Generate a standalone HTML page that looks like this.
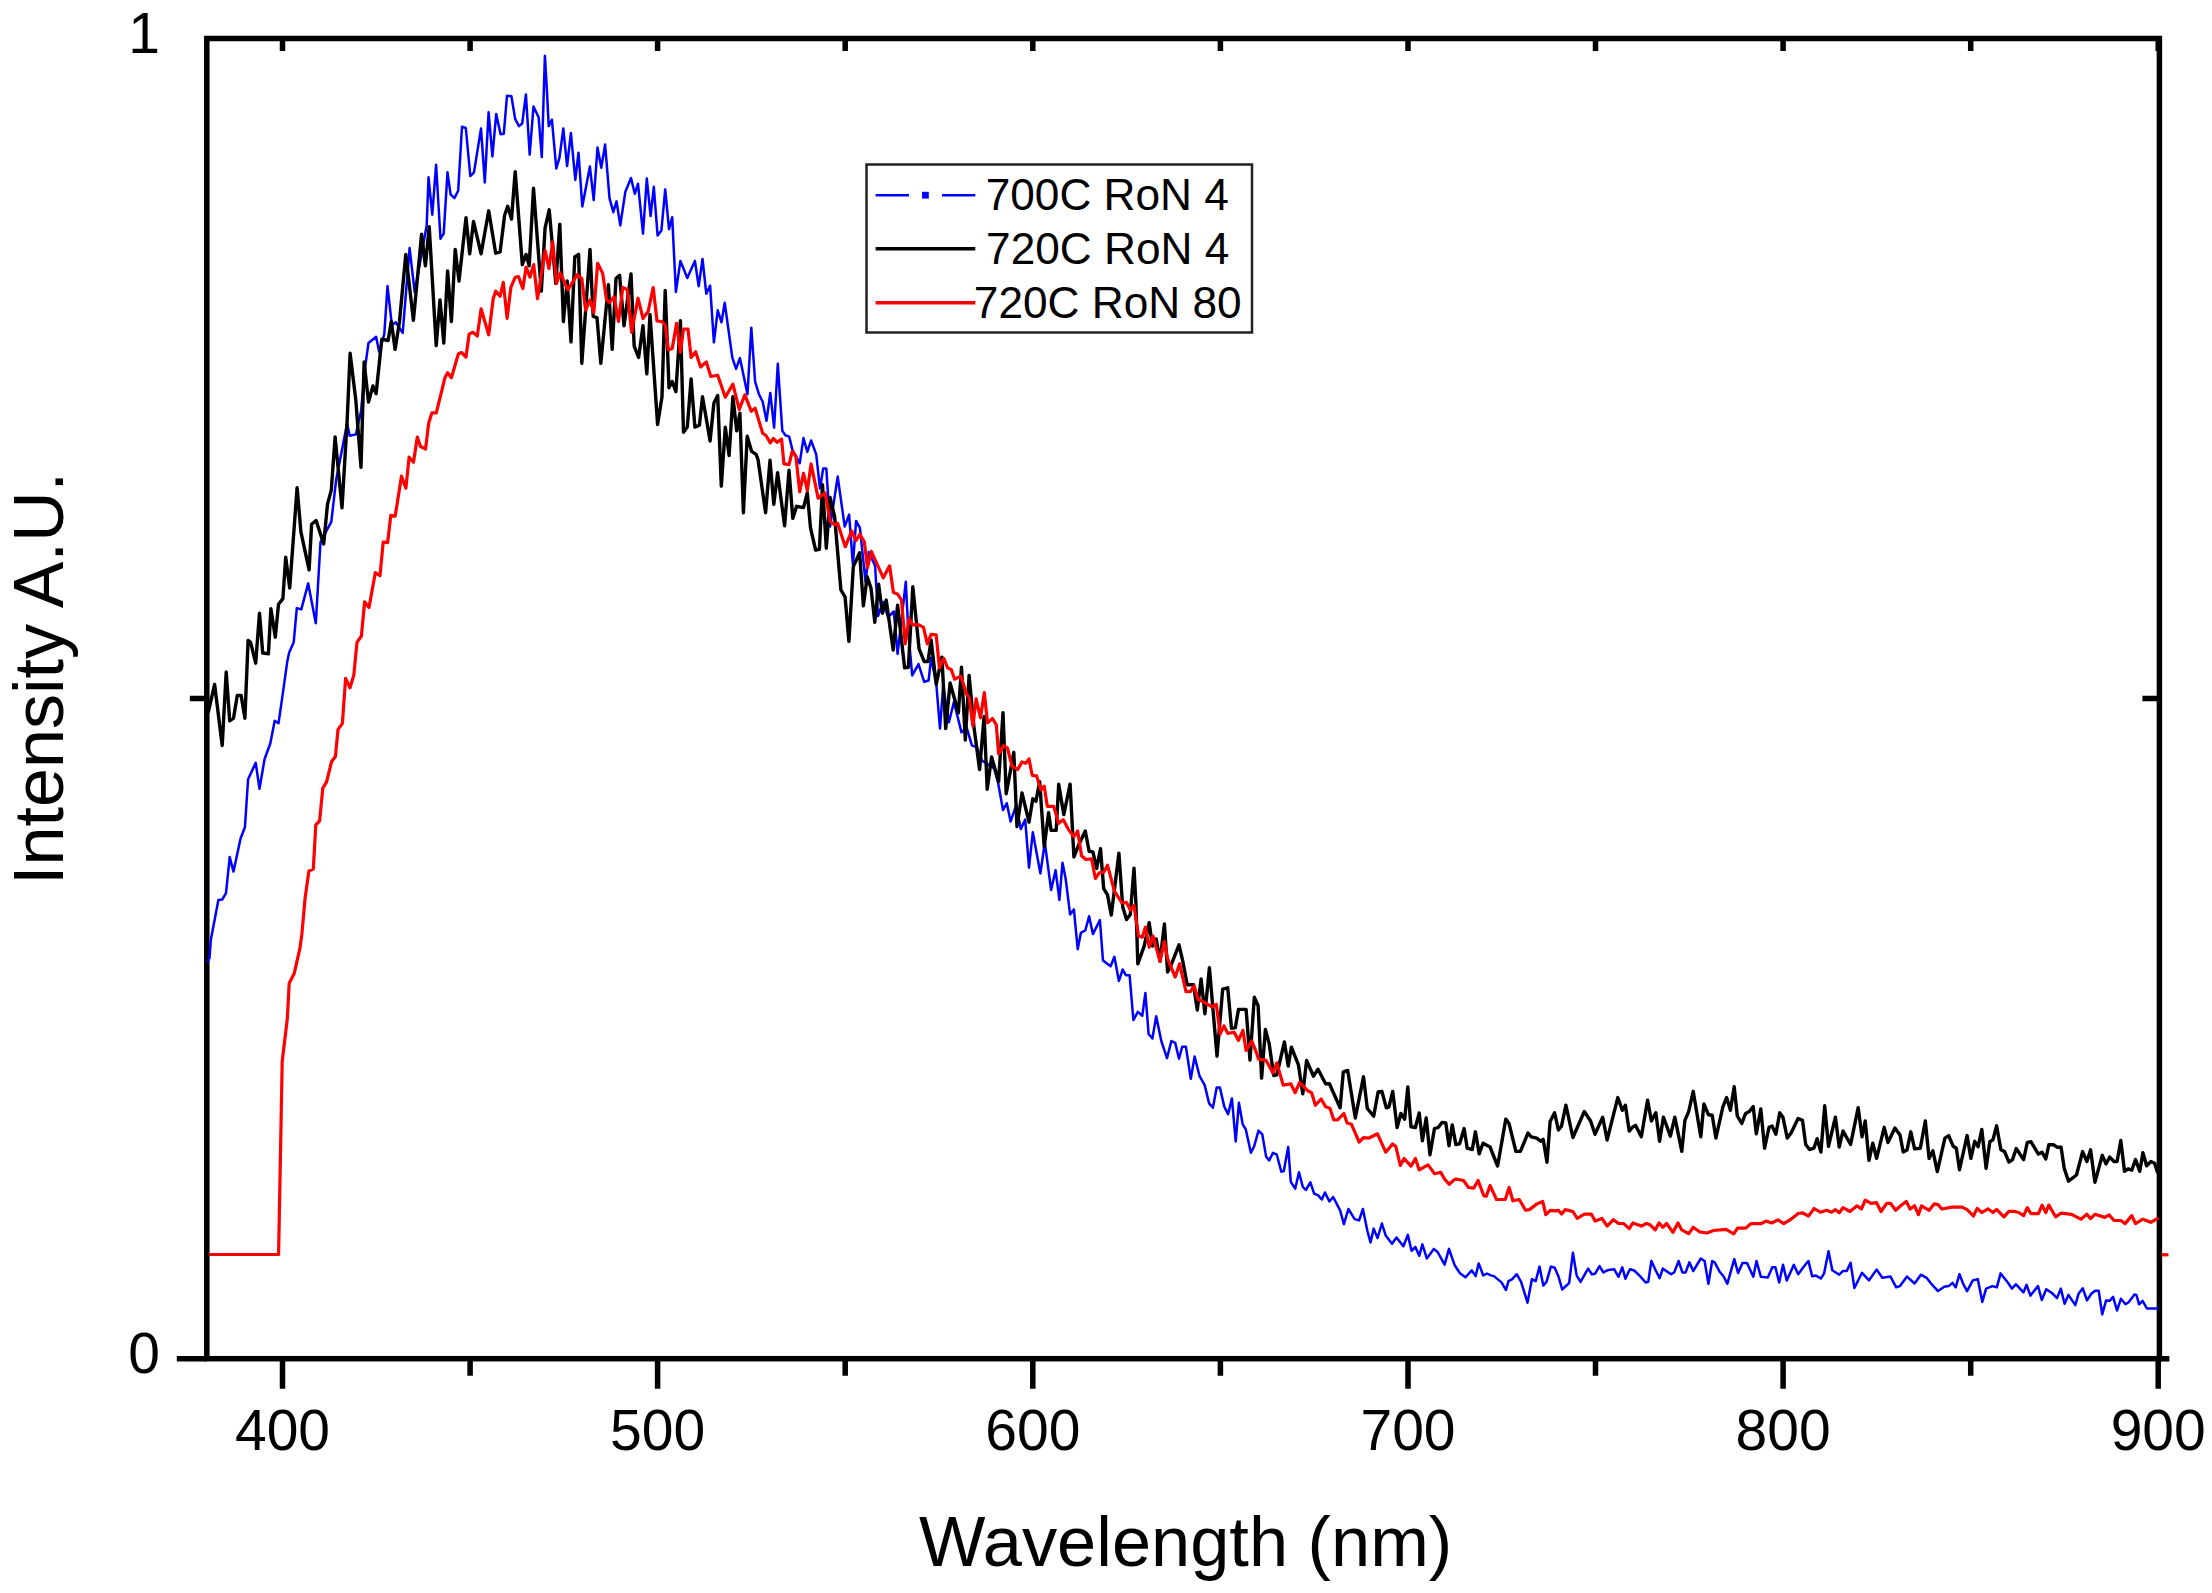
<!DOCTYPE html>
<html><head><meta charset="utf-8"><title>Intensity vs Wavelength</title>
<style>html,body{margin:0;padding:0;background:#fff;width:2212px;height:1593px;overflow:hidden}svg{display:block}text{font-family:"Liberation Sans",sans-serif;fill:#000}</style>
</head><body>
<svg width="2212" height="1593" viewBox="0 0 2212 1593"><rect x="206.8" y="38.5" width="1952.6" height="1320.2" fill="none" stroke="#000" stroke-width="5.5"/>
<path d="M282.5 1358.7V1388.7M282.5 38.5V51.0M470.1 1358.7V1375.7M470.1 38.5V51.0M657.6 1358.7V1388.7M657.6 38.5V51.0M845.2 1358.7V1375.7M845.2 38.5V51.0M1032.8 1358.7V1388.7M1032.8 38.5V51.0M1220.4 1358.7V1375.7M1220.4 38.5V51.0M1408.0 1358.7V1388.7M1408.0 38.5V51.0M1595.5 1358.7V1375.7M1595.5 38.5V51.0M1783.1 1358.7V1388.7M1783.1 38.5V51.0M1970.7 1358.7V1375.7M1970.7 38.5V51.0M2158.2 1358.7V1388.7M2158.2 38.5V51.0M206.8 1358.7H176.8M206.8 698.6H189.8M2159.4 698.6H2142.4M2159.4 1358.7H2169.4" stroke="#000" stroke-width="5.5" fill="none"/>
<path d="M207.5,962.0 209.5,958.0 210.8,940.0 218.4,900.1 222.2,899.5 226.0,893.2 229.7,857.1 233.5,871.6 240.5,838.7 244.9,827.3 248.1,779.2 255.7,762.8 259.5,788.7 264.6,759.0 270.3,743.5 274.7,720.8 278.5,723.3 282.9,692.9 287.3,661.3 289.2,652.4 293.7,642.3 296.8,608.1 301.3,609.4 308.2,583.4 315.8,623.3 320.5,542.0 331.3,521.8 336.3,478.7 343.3,443.3 347.1,423.0 349.6,435.7 355.9,434.4 361.0,411.6 365.3,365.8 368.5,343.0 376.1,336.7 379.2,351.9 384.3,334.2 387.5,286.1 391.9,325.3 395.7,322.2 402.7,332.9 409.6,248.1 414.7,292.4 426.7,225.3 428.5,177.3 432.3,214.7 436.1,164.7 440.5,238.7 443.7,233.7 447.5,172.3 450.6,194.4 454.4,198.2 458.2,190.6 462.0,126.7 465.8,128.0 470.3,176.1 474.0,172.3 481.0,128.6 484.8,182.4 488.6,112.2 492.4,156.5 496.2,114.1 500.6,134.3 503.8,133.7 507.0,95.7 511.4,96.3 515.2,119.1 519.0,126.1 522.2,123.5 525.9,94.4 529.7,154.6 533.5,106.5 538.6,117.2 541.8,157.1 544.9,55.8 546.8,88.1 548.7,126.1 551.9,119.7 556.3,168.5 559.5,157.7 563.3,128.6 567.1,166.0 570.9,133.0 575.3,179.9 578.5,152.7 582.3,206.5 589.9,166.6 593.7,200.1 597.5,147.6 601.3,167.8 605.1,144.4 609.5,198.2 613.3,212.2 616.5,201.4 620.3,225.4 625.3,191.9 631.0,178.0 634.8,193.8 638.0,183.7 643.0,233.7 646.8,178.6 650.6,216.0 653.8,186.8 657.6,235.6 661.4,230.5 665.2,189.4 669.0,229.2 672.2,217.2 675.9,291.9 680.4,260.9 687.3,278.0 694.9,260.9 698.7,286.2 702.5,259.0 706.3,293.8 710.1,285.6 713.9,342.3 717.7,310.3 721.5,322.3 724.7,302.7 732.3,357.5 736.1,368.9 739.9,358.1 747.5,394.2 751.3,327.7 755.1,381.5 758.9,394.2 762.7,401.8 766.5,420.8 770.3,392.9 774.1,427.7 777.8,363.8 782.3,430.9 785.4,435.3 789.2,436.6 792.4,449.9 799.7,463.3 803.5,438.0 807.3,451.9 811.1,440.5 816.2,454.4 820.0,488.6 823.2,468.4 826.3,468.4 830.1,526.6 837.7,476.6 844.7,526.6 849.1,514.6 852.9,564.6 856.1,520.9 859.9,527.8 865.6,582.3 868.7,551.9 875.1,565.8 878.0,616.0 883.0,602.0 888.1,617.2 893.8,611.5 897.6,653.9 905.8,581.8 908.4,633.7 912.2,675.4 918.5,664.1 924.2,681.8 928.6,680.5 931.1,657.7 936.2,683.0 940.0,728.6 943.2,685.6 948.9,722.3 953.9,702.0 961.5,732.4 966.6,727.3 972.0,745.6 976.5,746.8 982.2,760.8 994.2,768.4 998.0,782.3 1003.0,810.1 1006.8,803.2 1010.6,821.5 1016.3,805.1 1020.8,829.1 1025.2,819.6 1029.0,867.7 1032.8,832.3 1040.4,873.4 1044.8,842.4 1051.1,889.9 1055.6,870.3 1059.4,900.0 1062.5,862.7 1065.7,879.0 1070.1,914.4 1073.9,909.4 1077.7,949.2 1080.9,932.8 1085.3,930.3 1089.1,916.3 1092.9,934.1 1099.9,920.1 1103.0,960.6 1110.6,966.3 1114.4,956.8 1118.9,980.9 1122.7,969.5 1125.8,975.2 1129.6,975.2 1133.4,1020.1 1137.8,1011.9 1142.3,1015.7 1145.4,992.9 1148.6,1034.0 1152.4,1038.5 1156.2,1016.3 1161.3,1041.0 1167.0,1058.1 1171.4,1041.0 1175.2,1042.9 1179.0,1058.7 1182.2,1046.7 1185.9,1046.7 1190.8,1078.7 1194.6,1056.6 1199.6,1076.2 1204.7,1085.1 1209.1,1103.4 1212.9,1107.8 1216.7,1087.6 1219.9,1087.6 1224.3,1106.6 1228.1,1114.2 1231.9,1098.4 1235.7,1141.4 1238.9,1102.8 1242.7,1124.3 1245.8,1129.4 1250.9,1152.8 1254.1,1146.5 1258.5,1130.6 1262.3,1134.4 1266.1,1156.6 1269.2,1160.4 1273.0,1152.8 1276.8,1154.7 1281.3,1171.8 1283.8,1171.1 1288.2,1147.1 1290.8,1181.8 1295.2,1188.7 1299.0,1172.3 1302.8,1186.8 1305.9,1190.0 1310.4,1182.4 1314.2,1193.8 1318.0,1195.1 1321.8,1199.5 1324.9,1192.5 1329.4,1201.4 1333.2,1197.0 1340.1,1210.3 1343.9,1224.2 1348.4,1209.0 1354.7,1219.1 1359.1,1220.4 1362.9,1209.0 1367.3,1230.5 1370.5,1242.5 1373.7,1228.6 1377.5,1238.1 1381.9,1223.5 1385.7,1235.6 1392.0,1243.8 1396.5,1237.5 1403.4,1246.3 1407.8,1234.9 1411.6,1250.8 1415.4,1247.0 1419.2,1255.8 1422.4,1244.4 1426.8,1258.4 1433.8,1248.9 1437.6,1252.0 1444.6,1264.7 1449.0,1248.9 1454.7,1265.3 1459.7,1272.9 1465.4,1277.3 1471.8,1270.4 1475.6,1276.1 1478.7,1263.4 1483.2,1275.4 1487.0,1273.5 1490.8,1275.4 1493.9,1276.1 1501.5,1282.4 1506.0,1290.0 1508.5,1281.1 1512.3,1279.2 1516.7,1274.2 1521.1,1281.8 1527.5,1302.7 1531.9,1279.2 1535.7,1281.1 1539.5,1266.6 1543.3,1285.6 1546.5,1281.8 1550.9,1266.6 1554.7,1267.8 1558.4,1276.2 1562.2,1289.5 1569.1,1283.2 1572.9,1252.8 1576.7,1275.6 1580.5,1281.9 1588.1,1268.6 1591.9,1274.3 1595.1,1273.7 1599.5,1266.1 1603.3,1272.4 1608.4,1269.9 1614.1,1269.2 1618.5,1276.8 1622.3,1267.3 1625.4,1278.7 1629.9,1269.2 1634.3,1270.5 1640.0,1276.2 1645.7,1282.5 1648.2,1281.9 1651.4,1261.0 1655.8,1270.5 1659.6,1278.1 1662.8,1268.6 1671.0,1274.3 1674.2,1272.4 1678.6,1261.0 1682.4,1272.4 1685.6,1272.4 1689.4,1262.3 1693.2,1271.1 1700.8,1258.5 1704.6,1261.0 1708.4,1283.8 1712.2,1261.0 1714.7,1262.3 1719.7,1271.8 1723.5,1276.2 1727.3,1283.8 1734.3,1259.1 1738.1,1273.0 1742.5,1262.9 1747.0,1262.9 1753.3,1276.8 1756.5,1261.0 1760.9,1276.8 1767.8,1277.5 1772.3,1267.3 1775.4,1267.3 1779.2,1282.5 1783.0,1264.8 1786.8,1280.6 1793.8,1264.8 1798.2,1274.3 1803.3,1267.3 1808.4,1261.0 1812.2,1276.2 1815.9,1275.6 1820.9,1278.5 1824.1,1273.4 1828.5,1251.3 1832.3,1270.3 1839.2,1274.7 1843.0,1270.9 1846.8,1270.9 1850.6,1262.7 1854.4,1288.0 1862.0,1272.8 1869.0,1280.4 1876.6,1269.6 1882.3,1277.8 1890.5,1276.6 1896.2,1287.3 1900.0,1286.1 1907.0,1276.6 1914.6,1283.5 1920.9,1274.7 1926.6,1277.8 1931.6,1284.2 1938.0,1291.1 1944.3,1286.7 1948.7,1286.1 1952.5,1282.9 1955.7,1287.3 1959.5,1274.1 1963.3,1284.2 1967.1,1291.1 1972.8,1280.4 1977.8,1279.1 1982.3,1301.9 1986.1,1288.6 1992.4,1286.1 1996.8,1287.3 2000.6,1273.4 2007.6,1282.3 2012.0,1288.6 2015.8,1284.2 2023.4,1292.4 2026.6,1284.8 2030.4,1295.6 2038.0,1286.1 2041.8,1300.0 2046.2,1289.2 2051.9,1293.0 2057.0,1298.1 2060.8,1288.6 2064.6,1303.8 2068.4,1294.9 2075.3,1305.1 2078.5,1293.8 2082.8,1288.3 2087.0,1300.4 2091.3,1293.8 2095.2,1290.7 2098.7,1290.7 2102.2,1314.4 2106.1,1300.4 2109.6,1300.8 2113.1,1296.9 2117.0,1310.5 2120.9,1298.8 2125.5,1304.3 2128.6,1302.3 2134.5,1294.5 2136.4,1294.9 2139.1,1304.3 2142.6,1300.8 2146.9,1308.5 2158.5,1308.5" stroke="#0000ff" stroke-width="2.5" fill="none" stroke-linejoin="round" stroke-linecap="butt"/>
<path d="M207.5,710.0 208.3,712.2 214.6,684.5 222.2,745.5 226.2,672.0 229.7,720.8 233.5,718.2 237.3,695.4 241.1,695.4 244.9,718.2 248.1,640.4 250.6,642.3 255.7,663.2 259.5,613.2 262.7,653.0 268.4,653.7 270.9,608.7 275.3,637.2 278.5,604.3 282.9,598.6 285.7,557.2 289.7,588.0 297.1,487.6 300.9,531.9 309.1,569.9 311.6,524.3 316.1,520.5 323.7,543.9 327.5,504.1 331.3,490.1 335.1,437.0 342.0,507.8 347.1,421.8 350.1,353.2 355.8,400.0 361.0,467.3 364.1,362.0 368.5,402.0 372.9,386.0 376.1,393.7 381.8,339.2 388.1,340.5 391.3,321.5 395.1,349.4 399.5,321.5 405.8,254.4 413.4,320.3 421.6,234.2 425.4,265.8 429.2,226.6 436.2,345.6 440.0,300.0 443.8,343.0 447.6,270.9 451.4,321.5 455.2,249.4 459.0,281.0 466.0,217.7 469.7,253.8 473.5,221.5 481.1,253.8 488.7,210.8 495.7,253.2 500.1,251.9 504.6,215.2 507.7,206.3 511.5,219.0 515.2,171.6 522.3,264.6 526.1,254.4 529.2,265.8 533.5,188.1 541.3,291.1 545.1,227.8 549.2,209.8 555.8,283.5 559.8,224.1 563.4,321.5 567.2,281.0 571.0,341.8 574.8,257.0 578.6,254.4 581.8,363.3 590.0,249.4 593.2,316.5 597.0,317.7 600.8,363.3 608.4,284.8 612.2,349.4 616.0,278.5 619.6,275.2 624.0,325.8 631.0,273.9 634.2,346.1 638.6,357.5 643.0,325.8 646.8,373.9 650.0,314.4 657.6,424.6 662.0,396.7 665.2,290.4 669.0,387.8 672.2,381.5 675.9,391.6 680.4,320.8 683.5,432.2 687.3,427.1 691.1,379.0 694.9,427.1 699.4,425.2 702.5,396.7 710.1,441.0 713.9,403.0 717.7,395.4 721.3,486.1 725.3,427.1 729.1,455.6 732.9,396.7 736.7,430.9 739.9,413.2 743.4,512.7 747.2,436.1 751.6,451.3 756.1,454.4 758.0,459.5 765.6,512.7 770.0,460.1 773.8,504.4 777.6,472.8 784.6,525.9 789.0,470.3 792.8,518.4 796.6,506.3 803.5,507.6 807.3,493.0 810.5,527.8 815.6,550.0 819.4,549.4 822.5,484.8 826.3,548.1 830.1,497.5 834.6,516.5 840.9,589.9 845.1,597.0 848.9,641.3 853.3,566.6 859.6,552.7 863.4,605.8 867.2,576.7 871.0,588.1 874.8,622.3 878.6,584.3 882.4,613.4 886.2,600.1 893.2,650.1 897.6,605.2 904.6,667.8 908.4,667.2 912.8,586.8 919.1,648.9 924.2,661.5 928.0,661.5 931.1,640.0 936.2,684.3 941.9,657.1 945.7,728.6 950.1,683.0 958.4,712.8 961.5,667.2 965.3,740.0 969.1,675.4 973.9,726.6 979.6,769.6 984.1,716.5 987.2,789.2 991.6,757.0 998.6,781.6 1003.0,712.7 1006.2,793.7 1013.8,752.5 1017.0,826.6 1022.0,793.0 1029.0,822.2 1032.8,798.7 1035.9,801.3 1039.7,781.6 1044.2,846.8 1048.6,812.7 1051.1,830.4 1056.2,830.4 1058.7,784.2 1063.8,814.6 1070.1,784.2 1073.9,857.0 1078.4,845.6 1085.3,831.0 1089.1,851.3 1092.9,851.9 1096.7,868.4 1100.5,848.7 1103.7,888.6 1107.5,894.9 1111.3,915.1 1118.9,853.2 1122.7,906.8 1126.5,919.5 1130.3,914.4 1134.0,868.2 1135.9,903.0 1137.8,963.8 1144.2,946.1 1149.2,922.7 1152.4,946.1 1156.2,939.1 1160.0,961.3 1164.4,923.9 1167.6,972.0 1170.1,967.6 1179.0,944.8 1182.8,961.3 1187.2,984.7 1193.5,984.7 1197.3,1010.0 1201.1,979.0 1204.9,1013.8 1209.4,967.6 1217.0,1056.2 1222.7,989.1 1227.7,987.8 1231.5,1028.4 1235.3,1027.7 1238.5,1009.4 1246.1,1009.4 1250.0,1060.0 1254.3,997.3 1258.1,1005.6 1261.6,1078.1 1265.4,1029.4 1269.2,1043.9 1273.7,1075.6 1276.8,1074.9 1284.4,1042.0 1288.2,1066.1 1291.4,1047.1 1298.4,1064.8 1302.8,1093.9 1306.6,1060.4 1313.5,1076.2 1318.0,1069.2 1325.6,1083.8 1329.4,1083.8 1340.1,1107.8 1343.3,1071.8 1347.7,1070.5 1355.3,1118.0 1363.5,1076.8 1367.3,1108.5 1373.7,1116.1 1378.1,1092.0 1381.9,1091.4 1386.3,1107.8 1388.9,1107.2 1392.7,1091.4 1397.1,1127.5 1400.9,1113.5 1404.7,1119.2 1407.8,1087.0 1411.0,1126.8 1415.4,1127.5 1419.2,1112.9 1422.4,1140.8 1426.2,1118.0 1430.0,1154.7 1434.4,1128.7 1438.2,1127.5 1442.0,1122.4 1445.8,1123.0 1449.0,1145.8 1452.2,1124.9 1455.9,1144.6 1459.6,1143.8 1464.1,1128.6 1467.2,1148.2 1472.3,1149.5 1475.4,1131.8 1479.2,1153.9 1483.0,1143.2 1490.0,1147.0 1497.6,1166.0 1505.8,1119.1 1509.0,1123.5 1515.9,1151.4 1520.4,1151.4 1528.0,1133.0 1531.1,1136.8 1536.8,1138.1 1540.6,1141.3 1543.2,1139.4 1547.0,1162.2 1550.1,1121.6 1554.6,1112.8 1558.4,1129.9 1561.5,1126.1 1565.9,1105.2 1572.9,1137.5 1584.3,1111.5 1590.6,1121.0 1595.0,1134.3 1602.7,1117.2 1607.1,1140.0 1617.8,1097.6 1622.3,1110.3 1625.4,1105.2 1629.2,1131.1 1632.4,1127.3 1635.6,1125.4 1641.3,1136.8 1647.6,1100.1 1651.4,1121.0 1655.8,1112.8 1659.6,1141.3 1663.4,1117.2 1670.4,1136.2 1674.8,1117.2 1681.8,1151.4 1684.9,1120.4 1688.7,1111.5 1693.2,1091.3 1700.8,1136.8 1703.9,1103.9 1708.4,1114.7 1712.2,1115.3 1715.9,1138.1 1722.8,1107.1 1726.6,1097.6 1730.4,1110.3 1734.2,1086.8 1737.3,1116.0 1741.8,1123.5 1745.6,1113.4 1749.4,1111.5 1753.2,1106.5 1756.3,1133.7 1760.8,1109.0 1764.6,1148.2 1769.0,1127.3 1772.2,1126.1 1775.9,1134.3 1779.7,1112.8 1782.9,1117.2 1787.3,1138.1 1791.1,1133.0 1798.1,1118.5 1802.5,1120.4 1805.7,1144.4 1809.5,1149.5 1813.9,1148.2 1817.1,1138.7 1820.9,1152.0 1824.7,1105.8 1828.5,1146.3 1835.4,1117.2 1839.2,1147.0 1843.0,1131.1 1850.6,1144.4 1858.2,1107.7 1862.0,1136.8 1865.2,1121.0 1869.0,1160.3 1872.8,1143.2 1876.6,1158.4 1884.2,1127.3 1888.0,1142.5 1894.9,1128.0 1900.0,1134.9 1903.2,1152.0 1907.0,1150.1 1910.8,1131.8 1914.6,1148.9 1920.3,1148.2 1925.3,1121.0 1929.1,1158.4 1932.9,1150.8 1937.3,1171.6 1944.9,1138.1 1948.7,1135.6 1953.2,1146.3 1956.3,1148.2 1959.5,1169.7 1967.1,1135.6 1970.9,1158.4 1974.7,1141.3 1978.1,1146.7 1981.8,1129.5 1986.1,1168.2 1989.8,1141.8 1992.9,1139.9 1996.6,1125.8 2000.9,1149.8 2004.6,1151.6 2008.9,1162.1 2012.6,1159.6 2016.2,1148.5 2023.6,1159.6 2027.3,1142.4 2031.0,1141.8 2038.4,1154.1 2042.1,1152.2 2045.8,1159.0 2048.8,1144.8 2053.7,1144.8 2057.4,1147.3 2061.1,1147.3 2064.2,1168.2 2068.5,1181.1 2076.5,1175.0 2082.6,1151.6 2086.9,1161.5 2090.6,1149.8 2094.9,1182.4 2102.3,1155.3 2106.0,1163.9 2109.7,1157.1 2114.0,1161.5 2117.1,1161.5 2120.8,1140.5 2124.5,1171.3 2128.1,1168.8 2131.8,1170.1 2135.5,1159.6 2139.8,1171.3 2142.9,1152.8 2146.6,1165.8 2150.9,1161.5 2154.6,1163.3 2157.7,1173.1" stroke="#000000" stroke-width="3.4" fill="none" stroke-linejoin="round" stroke-linecap="butt"/>
<path d="M209.0,1254.5 278.6,1254.5 282.2,1061.5 287.3,1018.7 289.2,983.3 294.3,973.2 300.0,947.8 301.9,933.9 305.1,898.2 308.9,871.0 313.3,869.1 315.8,824.8 319.6,821.0 322.8,788.1 326.6,781.8 331.6,761.5 335.4,756.5 338.0,729.6 342.4,723.3 345.6,678.4 350.0,687.8 353.8,675.2 357.0,642.3 361.4,636.0 364.6,601.8 369.0,607.5 375.3,572.7 380.0,575.6 383.2,542.0 387.6,542.7 390.8,515.4 395.2,516.1 401.5,476.2 405.9,488.2 409.1,457.2 413.5,462.3 417.3,437.0 420.5,446.5 425.6,449.0 428.7,423.0 431.9,412.9 436.3,412.9 445.1,377.2 447.6,372.8 451.4,377.8 458.4,353.8 461.5,352.5 466.0,357.0 469.1,334.2 472.9,332.3 477.3,336.1 481.1,308.9 488.7,334.8 493.2,298.7 495.7,291.1 500.1,296.2 503.3,282.3 507.1,318.4 510.9,287.3 515.3,277.2 518.5,276.6 522.9,288.6 526.1,267.1 529.9,277.2 533.7,264.6 537.5,298.7 545.1,250.6 548.9,268.4 552.7,241.8 556.5,283.5 560.3,272.8 567.8,289.9 577.3,274.7 581.8,278.5 585.6,310.1 590.0,300.0 593.8,312.7 597.6,263.3 602.7,273.4 606.5,300.0 609.6,302.5 614.1,296.8 618.5,321.5 622.8,287.5 627.2,289.4 631.6,332.4 638.0,298.2 643.0,318.5 648.1,311.5 653.2,287.5 657.0,321.0 662.0,321.6 665.2,324.8 668.4,349.9 672.2,348.6 676.6,323.3 680.4,352.4 683.5,329.0 688.0,329.0 691.1,357.5 695.6,351.8 700.6,367.0 706.3,361.9 710.8,376.5 717.7,375.2 725.3,397.3 732.9,384.1 739.2,409.4 744.9,394.8 751.3,411.3 755.1,408.1 762.7,433.4 765.8,435.3 770.3,442.9 773.4,438.5 777.2,442.3 781.6,439.1 783.9,463.9 789.0,464.6 792.2,451.3 795.9,456.3 799.7,491.8 803.5,473.4 807.3,490.5 811.1,463.9 818.1,498.1 825.1,493.0 830.1,521.5 834.6,524.7 837.7,523.4 845.3,546.8 851.6,531.0 856.1,540.5 859.9,534.2 864.3,541.8 867.5,567.7 871.3,551.3 883.3,577.8 889.6,565.8 893.4,592.4 897.8,594.3 901.5,600.0 905.2,643.8 909.0,618.5 912.8,624.8 919.1,624.8 923.5,627.3 927.3,643.8 931.1,634.3 936.2,634.9 939.4,667.8 943.8,658.4 947.6,667.8 951.4,669.7 954.6,679.2 960.9,676.1 966.6,694.4 969.1,697.0 972.9,726.1 976.1,698.9 980.5,717.8 984.3,692.5 987.5,722.9 992.5,718.5 996.3,724.8 998.6,753.8 1003.7,745.6 1007.5,748.1 1011.9,765.8 1017.6,769.6 1022.0,762.0 1025.8,763.3 1029.0,758.9 1032.2,775.3 1036.6,775.9 1039.7,786.1 1041.0,789.9 1044.2,786.1 1047.3,806.3 1053.7,806.3 1058.7,823.4 1063.2,819.6 1068.2,829.1 1073.9,836.7 1077.7,831.0 1081.5,855.7 1085.9,859.5 1091.6,858.9 1095.4,878.5 1099.2,872.8 1103.7,872.2 1107.5,865.2 1114.4,891.1 1122.0,903.0 1126.5,902.4 1130.3,910.0 1134.0,905.6 1138.5,936.0 1142.3,937.2 1145.4,927.1 1149.2,947.3 1153.0,936.0 1160.0,961.3 1164.4,941.6 1167.6,958.7 1175.2,977.1 1179.6,963.8 1186.0,991.6 1190.4,991.6 1194.2,986.0 1198.0,999.2 1204.3,1002.4 1211.9,1006.8 1216.3,1004.3 1220.1,1034.1 1223.9,1025.8 1227.7,1033.4 1234.1,1032.2 1238.5,1040.4 1242.9,1030.3 1246.1,1050.5 1251.8,1041.0 1256.8,1053.7 1258.5,1059.1 1266.1,1060.4 1273.0,1073.0 1276.8,1062.9 1283.2,1085.1 1290.8,1083.8 1295.2,1092.7 1299.6,1082.5 1307.8,1090.8 1311.6,1092.7 1315.4,1105.3 1321.1,1099.0 1325.6,1106.6 1330.0,1108.5 1333.8,1119.9 1337.6,1119.9 1343.9,1113.5 1347.1,1123.0 1351.5,1124.3 1359.1,1142.0 1363.5,1137.6 1368.6,1138.2 1377.5,1133.8 1385.7,1152.2 1392.7,1143.9 1395.8,1146.5 1400.3,1165.4 1404.1,1158.5 1411.0,1166.1 1415.4,1158.5 1419.2,1169.9 1428.1,1164.8 1434.4,1173.7 1440.8,1172.4 1444.6,1179.2 1449.3,1184.3 1454.7,1179.4 1457.2,1179.2 1463.5,1180.5 1468.6,1187.5 1473.7,1188.1 1478.1,1180.5 1483.8,1195.7 1486.3,1196.3 1490.1,1185.6 1496.5,1199.5 1505.3,1199.5 1509.1,1187.5 1512.9,1200.8 1519.2,1199.5 1525.6,1210.3 1529.4,1209.6 1537.0,1203.9 1542.7,1201.4 1545.8,1214.7 1550.3,1210.3 1555.9,1210.9 1558.4,1210.3 1561.5,1214.1 1565.3,1209.6 1572.9,1211.5 1577.3,1218.5 1584.3,1214.1 1591.3,1214.1 1595.1,1221.0 1602.0,1218.5 1607.1,1226.1 1613.4,1219.7 1618.5,1223.5 1623.5,1223.5 1629.2,1228.6 1633.0,1222.9 1641.3,1226.1 1646.3,1223.5 1650.1,1224.8 1655.2,1229.9 1659.0,1222.9 1662.8,1227.3 1666.6,1223.5 1672.9,1232.4 1678.0,1222.9 1681.8,1229.9 1688.7,1233.7 1693.2,1227.3 1699.5,1231.8 1707.1,1233.0 1713.4,1230.5 1726.1,1229.4 1733.7,1233.8 1737.5,1228.1 1745.7,1228.1 1750.8,1223.7 1760.9,1223.7 1766.0,1221.1 1771.6,1223.0 1778.0,1219.9 1783.7,1223.7 1790.0,1219.9 1798.2,1213.5 1802.7,1212.9 1808.4,1216.1 1814.1,1208.5 1820.3,1212.2 1826.6,1210.3 1831.6,1212.2 1835.4,1209.6 1839.2,1212.8 1843.0,1207.7 1850.0,1211.5 1857.0,1205.8 1861.4,1209.0 1865.2,1200.1 1870.9,1203.3 1876.6,1202.7 1881.0,1211.5 1886.7,1203.3 1890.5,1203.3 1895.6,1210.3 1900.6,1205.8 1906.3,1201.4 1910.1,1209.0 1914.6,1205.8 1918.4,1214.7 1921.5,1205.8 1929.1,1210.3 1934.2,1203.9 1938.0,1204.6 1941.8,1209.0 1951.9,1207.1 1962.0,1207.1 1967.1,1209.6 1973.4,1216.0 1977.2,1208.4 1981.8,1212.5 1988.0,1208.8 1992.9,1212.5 1996.6,1209.4 2003.9,1216.8 2008.9,1211.3 2013.8,1211.3 2018.7,1212.5 2023.6,1215.6 2027.3,1207.6 2031.0,1213.7 2038.4,1213.7 2042.1,1205.1 2045.8,1212.5 2048.8,1205.1 2055.6,1216.8 2061.1,1213.1 2071.6,1214.3 2080.8,1219.2 2086.9,1214.3 2090.6,1218.6 2094.9,1214.3 2104.8,1217.4 2109.1,1214.9 2114.0,1220.5 2120.8,1220.5 2125.1,1223.6 2131.8,1215.6 2135.5,1223.6 2142.9,1219.2 2150.9,1222.3 2156.4,1219.2 2158.5,1218.0" stroke="#ff0000" stroke-width="3.2" fill="none" stroke-linejoin="round" stroke-linecap="butt"/>
<path d="M2161.5,1254.8 2168.5,1254.8" stroke="#ff0000" stroke-width="3.2" fill="none" stroke-linejoin="round" stroke-linecap="butt"/>
<text x="282.5" y="1450.3" text-anchor="middle" font-size="57" >400</text>
<text x="657.6" y="1450.3" text-anchor="middle" font-size="57" >500</text>
<text x="1032.8" y="1450.3" text-anchor="middle" font-size="57" >600</text>
<text x="1408.0" y="1450.3" text-anchor="middle" font-size="57" >700</text>
<text x="1783.1" y="1450.3" text-anchor="middle" font-size="57" >800</text>
<text x="2158.2" y="1450.3" text-anchor="middle" font-size="57" >900</text>
<text x="160" y="53.3" text-anchor="end" font-size="57" >1</text>
<text x="160" y="1373.4" text-anchor="end" font-size="57" >0</text>
<text x="1185.6" y="1566.2" text-anchor="middle" font-size="70.4" >Wavelength (nm)</text>
<text transform="translate(63.3,678.5) rotate(-90)" x="0" y="0" text-anchor="middle" font-size="70.1" >Intensity A.U.</text>
<rect x="866.5" y="164.5" width="385.5" height="168" fill="#fff" stroke="#222" stroke-width="2.5"/>
<path d="M875.6 195.2H909M942 195.2H975.3" stroke="#00f" stroke-width="2.5"/>
<rect x="922" y="191.8" width="6.8" height="6.8" fill="#00f"/>
<path d="M875.6 248.7H975.3" stroke="#000" stroke-width="3.5"/>
<path d="M875.6 302.8H975.3" stroke="#f00" stroke-width="3.5"/>
<text x="1107.3" y="210.4" text-anchor="middle" font-size="44.2" >700C RoN 4</text>
<text x="1107.7" y="263.9" text-anchor="middle" font-size="44.2" >720C RoN 4</text>
<text x="1107.7" y="317.6" text-anchor="middle" font-size="44.2" >720C RoN 80</text></svg>
</body></html>
